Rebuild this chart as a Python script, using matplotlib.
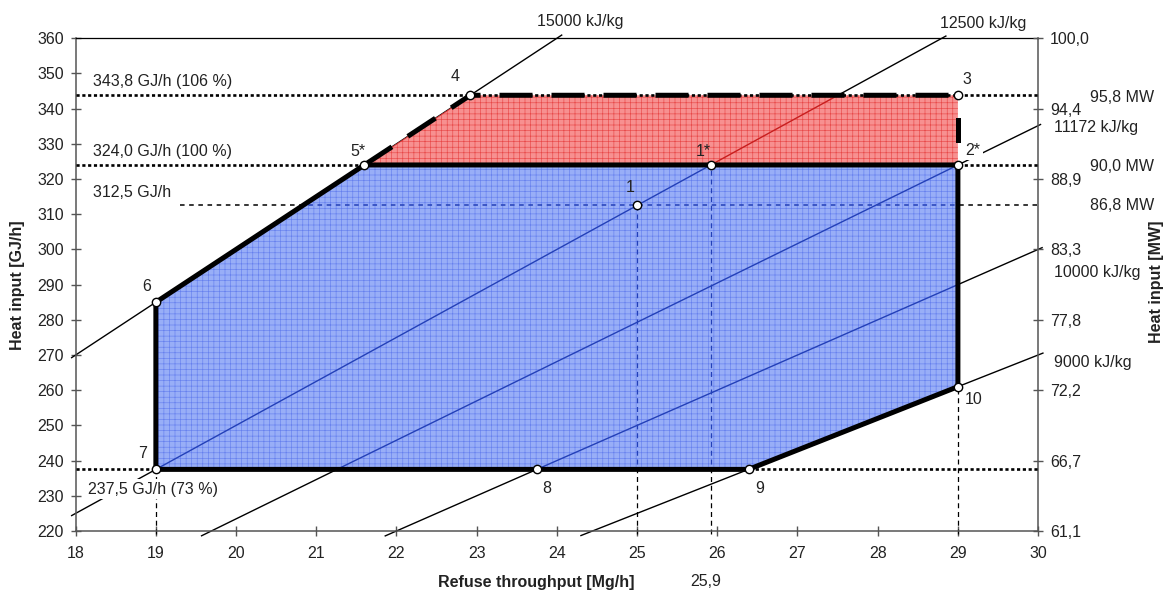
import matplotlib.pyplot as plt
from matplotlib.patches import Polygon

plt.rcParams['font.family'] = ['Liberation Sans', 'DejaVu Sans']
plt.rcParams['hatch.linewidth'] = 0.45

# heating value lines [kJ/kg] and their drawn x-extent [Mg/h]
lhv = [15000, 12500, 11172, 10000, 9000]
lhv_x_start = [17.95, 17.95, 19.57, 21.86, 24.3]
lhv_x_end = [24.06, 28.85, 30.03, 30.05, 30.06]

# operating points
pt_names = ['1', '1*', '2*', '3', '4', '5*', '6', '7', '8', '9', '10']
pt_x = [25.0, 25.92, 29.0, 29.0, 22.92, 21.6, 19.0, 19.0, 23.75, 26.39, 29.0]
pt_y = [312.5, 324.0, 324.0, 343.8, 343.8, 324.0, 285.0, 237.5, 237.5, 237.5, 261.0]
lbl_x = [24.92, 25.82, 29.19, 29.11, 22.73, 21.52, 18.88, 18.83, 23.87, 26.53, 29.19]
lbl_y = [317.7, 327.8, 328.0, 348.2, 349.0, 327.8, 289.4, 242.0, 232.0, 232.0, 257.3]

# heat input levels [GJ/h]
q_levels = [343.8, 324.0, 237.5]
q_labels = ['343,8 GJ/h (106 %)', '324,0 GJ/h (100 %)', '237,5 GJ/h (73 %)']
q_label_y = [347.7, 327.8, 231.9]
q_part = 312.5
mw_labels = ['95,8 MW', '90,0 MW', '86,8 MW']
mw_y = [343.1, 323.7, 312.4]

yticks_right = [220, 240, 260, 280, 300, 320, 340, 360]
ytick_mw = ['61,1', '66,7', '72,2', '77,8', '83,3', '88,9', '94,4', '100,0']

# vertical guide lines (x, y_top)
vx = [19.0, 25.0, 25.92, 29.0]
vy_top = [237.5, 312.5, 324.0, 261.0]

P = dict(zip(pt_names, zip(pt_x, pt_y)))
blue_pts = [P['7'], P['6'], P['5*'], P['2*'], P['10'], P['9']]
red_pts = [P['5*'], P['4'], P['3'], P['2*']]

txt = dict(fontsize=11.5, color='#222')

fig = plt.figure(figsize=(11.73, 5.94), dpi=100)
ax = fig.add_axes([0.0645, 0.1061, 0.8205, 0.8295])
ax.set_xlim(18, 30)
ax.set_ylim(220, 360)

blue = Polygon(blue_pts, closed=True, facecolor='#98aef7', edgecolor='#6680ee',
               hatch='+++', lw=0, zorder=3)
red = Polygon(red_pts, closed=True, facecolor='#f79090', edgecolor='#e84848',
              hatch='+++', lw=0, zorder=3)
ax.add_patch(blue)
ax.add_patch(red)

# heating value lines: black outside, coloured inside the regions
for k, x0, x1 in zip(lhv, lhv_x_start, lhv_x_end):
    xs = [x0, x1]
    ys = [k / 1000 * x0, k / 1000 * x1]
    ax.plot(xs, ys, color='black', lw=1, clip_on=False, zorder=2)
    for patch, c in [(blue, '#2340b8'), (red, '#c81e1e')]:
        ln, = ax.plot(xs, ys, color=c, lw=1, zorder=4)
        ln.set_clip_path(patch)

# vertical thin dashed lines
for x, yt in zip(vx, vy_top):
    ax.plot([x, x], [219, yt], color='black', lw=0.9, ls=(0, (4, 3)), clip_on=False, zorder=2)
    ln, = ax.plot([x, x], [219, yt], color='#2340b8', lw=0.9, ls=(0, (4, 3)), zorder=4)
    ln.set_clip_path(blue)

# partial load line
ax.plot([19.3, 30], [q_part, q_part], color='black', lw=1.1, ls=(0, (3, 3)), zorder=2)
ln, = ax.plot([19.3, 30], [q_part, q_part], color='#2340b8', lw=1.1, ls=(0, (3, 3)), zorder=4)
ln.set_clip_path(blue)

# dotted heat input levels
for q in q_levels:
    ax.plot([18, 30], [q, q], color='black', lw=1.9, ls=(0, (1.2, 1.0)), zorder=4.5)

# firing diagram boundary
bx = [P['5*'][0], P['6'][0], P['7'][0], P['9'][0], P['10'][0], P['2*'][0], P['5*'][0]]
by = [P['5*'][1], P['6'][1], P['7'][1], P['9'][1], P['10'][1], P['2*'][1], P['5*'][1]]
ax.plot(bx, by, color='black', lw=3.6, solid_joinstyle='miter', zorder=5)
ax.plot([P['5*'][0], P['4'][0], P['3'][0]], [P['5*'][1], P['4'][1], P['3'][1]],
        color='black', lw=3.6, ls=(0, (6.6, 3.8)), zorder=5)
ax.plot([P['2*'][0], P['3'][0]], [P['2*'][1], P['3'][1]],
        color='black', lw=3.6, ls=(5, (5, 4.5)), zorder=5)

ax.plot(pt_x, pt_y, 'o', ms=6, mfc='white', mec='black', mew=1, clip_on=False, zorder=6)

for name, x, y in zip(pt_names, lbl_x, lbl_y):
    kw = dict(txt)
    if name == '2*':
        kw['bbox'] = dict(facecolor='white', edgecolor='none', pad=1.5)
    ax.text(x, y, name, ha='center', va='center', zorder=7, **kw)

for lab, y in zip(q_labels, q_label_y):
    kw = dict(txt)
    if '73' in lab:
        kw['bbox'] = dict(facecolor='white', edgecolor='none', pad=2)
    ax.text(18.21 if '73' not in lab else 18.16, y, lab, ha='left', va='center', zorder=7, **kw)
ax.text(18.21, 316.1, '312,5 GJ/h', ha='left', va='center', zorder=7, **txt)

ax.text(23.75, 364.7, '15000 kJ/kg', ha='left', va='center', clip_on=False, **txt)
ax.text(28.78, 364.1, '12500 kJ/kg', ha='left', va='center', clip_on=False, **txt)
for lab, y in zip(['11172 kJ/kg', '10000 kJ/kg', '9000 kJ/kg'], [334.5, 293.4, 267.8]):
    ax.text(30.2, y, lab, ha='left', va='center', clip_on=False, **txt)
for lab, y in zip(mw_labels, mw_y):
    ax.text(30.65, y, lab, ha='left', va='center', clip_on=False, **txt)
ax.text(25.86, 205.7, '25,9', ha='center', va='center', clip_on=False, **txt)

ax.set_xticks(range(18, 31))
ax.set_yticks(range(220, 361, 10))
ax.tick_params(direction='inout', length=7, width=1, color='#555',
               labelsize=11.5, labelcolor='#222', pad=5)
ax.tick_params(axis='x', pad=7)
for s in ax.spines.values():
    s.set_color('#555')
    s.set_linewidth(1.1)
ax.spines['top'].set_color('black')
ax.spines['top'].set_linewidth(0.9)

ax2 = ax.twinx()
ax2.set_ylim(220, 360)
ax2.set_yticks(yticks_right)
ax2.set_yticklabels(ytick_mw)
ax2.tick_params(direction='inout', length=7, width=1, color='#555',
                labelsize=11.5, labelcolor='#222', pad=5)
for s in ax2.spines.values():
    s.set_visible(False)

fig.text(18 / 1173, 1 - 285 / 594, 'Heat input [GJ/h]', rotation=90, ha='center',
         va='center', fontsize=11.5, fontweight='bold', color='#222')
fig.text(1157 / 1173, 1 - 282 / 594, 'Heat input [MW]', rotation=90, ha='center',
         va='center', fontsize=11.5, fontweight='bold', color='#222')
fig.text(536 / 1173, 1 - 583 / 594, 'Refuse throughput [Mg/h]', ha='center',
         va='center', fontsize=11.5, fontweight='bold', color='#222')

fig.savefig('out.png', dpi=100)
